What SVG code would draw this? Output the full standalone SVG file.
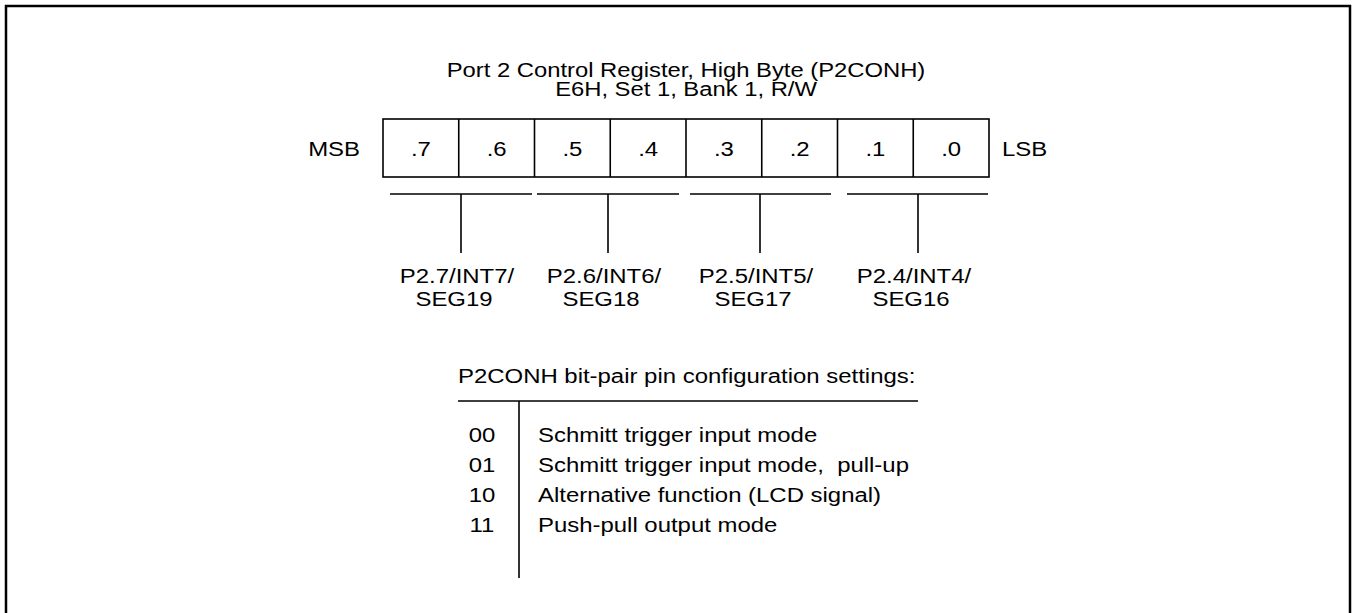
<svg xmlns="http://www.w3.org/2000/svg" width="1356" height="613" viewBox="0 0 1356 613">
<style>
text{font-family:"Liberation Sans",Arial,sans-serif;font-size:21px;fill:#000}
.t{font-size:20px}
.m{text-anchor:middle}
.e{text-anchor:end}
.ln{stroke:#000;stroke-width:1.6;fill:none}
</style>
<rect x="0" y="0" width="1356" height="613" fill="#fff"/>
<rect id="frame" x="6" y="6" width="1344" height="640" fill="none" stroke="#000" stroke-width="2.5"/>
<g id="title">
<text class="m t" transform="matrix(1.19 0 0 1 686 77)">Port 2 Control Register, High Byte (P2CONH)</text>
<text class="m t" transform="matrix(1.19 0 0 1 686 96)">E6H, Set 1, Bank 1, R/W</text>
</g>
<g id="register">
<rect class="ln" x="383" y="119" width="606" height="58"/>
<path class="ln" d="M458.75 119V177M534.5 119V177M610.25 119V177M686 119V177M761.75 119V177M837.5 119V177M913.25 119V177"/>
<text class="m" transform="matrix(1.14 0 0 1 420.9 156)">.7</text>
<text class="m" transform="matrix(1.14 0 0 1 496.6 156)">.6</text>
<text class="m" transform="matrix(1.14 0 0 1 572.4 156)">.5</text>
<text class="m" transform="matrix(1.14 0 0 1 648.1 156)">.4</text>
<text class="m" transform="matrix(1.14 0 0 1 723.9 156)">.3</text>
<text class="m" transform="matrix(1.14 0 0 1 799.6 156)">.2</text>
<text class="m" transform="matrix(1.14 0 0 1 875.4 156)">.1</text>
<text class="m" transform="matrix(1.14 0 0 1 951.1 156)">.0</text>
<text class="e" transform="matrix(1.14 0 0 1 360 156)">MSB</text>
<text transform="matrix(1.14 0 0 1 1002 156)">LSB</text>
</g>
<g id="connectors">
<path class="ln" d="M390 194H532M461 194V253"/>
<path class="ln" d="M537 194H679M608 194V253"/>
<path class="ln" d="M690 194H831M760 194V253"/>
<path class="ln" d="M847 194H988M918 194V253"/>
</g>
<g id="pin7"><text class="m" transform="matrix(1.14 0 0 1 457 283)">P2.7/INT7/</text><text class="m" transform="matrix(1.14 0 0 1 454 306)">SEG19</text></g>
<g id="pin6"><text class="m" transform="matrix(1.14 0 0 1 604 283)">P2.6/INT6/</text><text class="m" transform="matrix(1.14 0 0 1 601 306)">SEG18</text></g>
<g id="pin5"><text class="m" transform="matrix(1.14 0 0 1 756 283)">P2.5/INT5/</text><text class="m" transform="matrix(1.14 0 0 1 753 306)">SEG17</text></g>
<g id="pin4"><text class="m" transform="matrix(1.14 0 0 1 914 283)">P2.4/INT4/</text><text class="m" transform="matrix(1.14 0 0 1 911 306)">SEG16</text></g>
<g id="settings">
<text transform="matrix(1.14 0 0 1 458 383)">P2CONH bit-pair pin configuration settings:</text>
<path class="ln" d="M458 401H918M519 401V578"/>
<text class="m" transform="matrix(1.14 0 0 1 482 442)">00</text><text transform="matrix(1.14 0 0 1 538 442)">Schmitt trigger input mode</text>
<text class="m" transform="matrix(1.14 0 0 1 482 472)">01</text><text transform="matrix(1.14 0 0 1 538 472)" xml:space="preserve">Schmitt trigger input mode,  pull-up</text>
<text class="m" transform="matrix(1.14 0 0 1 482 502)">10</text><text transform="matrix(1.14 0 0 1 538 502)">Alternative function (LCD signal)</text>
<text class="m" transform="matrix(1.14 0 0 1 482 532)">11</text><text transform="matrix(1.14 0 0 1 538 532)">Push-pull output mode</text>
</g>
</svg>
